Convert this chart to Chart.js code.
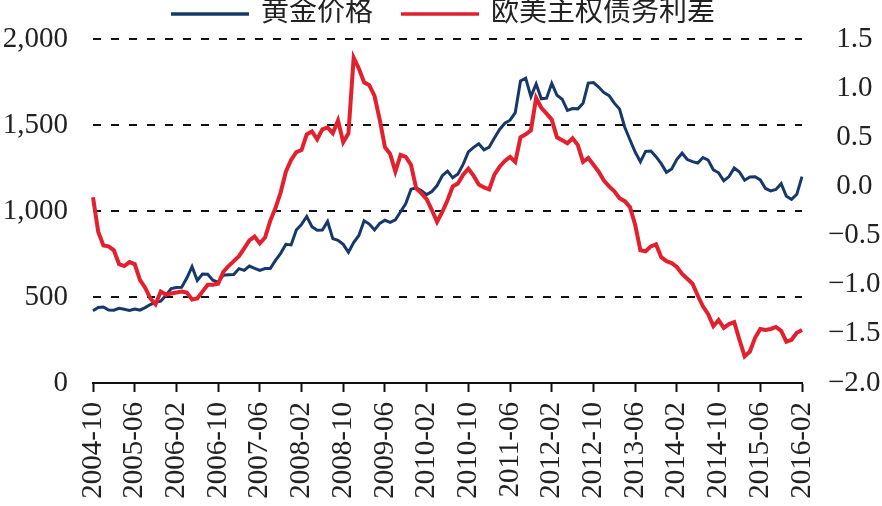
<!DOCTYPE html>
<html>
<head>
<meta charset="utf-8">
<script src="https://cdn.jsdelivr.net/npm/chart.js@4.4.1/dist/chart.umd.min.js"></script>
<style>
    body { margin: 0; background: #fff; }
    canvas { display: block; }
</style>
</head>
<body>
<canvas id="chart" width="882" height="506"></canvas>
<script>
// Month labels, 2004-10 .. 2016-02
const months = [];
for (let y = 2004, m = 10; y < 2016 || (y === 2016 && m <= 2); ) {
    months.push(y + '-' + (m < 10 ? '0' + m : m));
    m++;
    if (m > 12) { m = 1; y++; }
}

// Gold price (USD/oz, left axis)
const goldPrice = [
    420, 439, 442, 424, 423, 434, 429, 422, 430, 424,
    438, 456, 470, 476, 510, 549, 555, 557, 610, 676,
    596, 633, 632, 598, 585, 627, 629, 631, 665, 655,
    680, 667, 655, 665, 665, 713, 754, 806, 803, 889,
    922, 968, 909, 888, 889, 939, 839, 829, 806, 760,
    816, 858, 943, 924, 890, 928, 946, 934, 949, 996,
    1043, 1127, 1134, 1118, 1095, 1113, 1148, 1205, 1232, 1193,
    1215, 1271, 1343, 1370, 1391, 1356, 1372, 1424, 1474, 1510,
    1528, 1572, 1756, 1772, 1665, 1739, 1652, 1656, 1742, 1673,
    1650, 1585, 1596, 1594, 1626, 1744, 1747, 1721, 1688, 1671,
    1627, 1593, 1487, 1414, 1343, 1286, 1347, 1349, 1316, 1275,
    1225, 1244, 1300, 1336, 1299, 1287, 1279, 1311, 1296, 1239,
    1222, 1176, 1200, 1250, 1227, 1179, 1198, 1199, 1181, 1131,
    1117, 1125, 1159, 1086, 1068, 1097, 1200
];

// EU - US sovereign spread (right axis)
const bondSpread = [
    -0.11, -0.46, -0.60, -0.61, -0.65, -0.79, -0.81, -0.77, -0.79, -0.95,
    -1.03, -1.14, -1.20, -1.07, -1.10, -1.09, -1.08, -1.07, -1.08, -1.15,
    -1.14, -1.07, -1.00, -1.00, -0.99, -0.87, -0.81, -0.76, -0.71, -0.63,
    -0.55, -0.51, -0.58, -0.52, -0.35, -0.22, -0.06, 0.15, 0.27, 0.35,
    0.37, 0.53, 0.56, 0.48, 0.58, 0.60, 0.54, 0.67, 0.45, 0.54,
    1.31, 1.20, 1.06, 1.03, 0.92, 0.68, 0.40, 0.33, 0.15, 0.32,
    0.30, 0.22, -0.02, -0.07, -0.13, -0.24, -0.36, -0.26, -0.14, 0.00,
    0.03, 0.12, 0.18, 0.11, 0.02, -0.01, -0.03, 0.12, 0.20, 0.26,
    0.30, 0.25, 0.50, 0.53, 0.57, 0.90, 0.80, 0.74, 0.68, 0.50,
    0.47, 0.44, 0.49, 0.42, 0.25, 0.29, 0.22, 0.15, 0.06, 0.00,
    -0.05, -0.12, -0.15, -0.21, -0.39, -0.65, -0.66, -0.61, -0.59, -0.72,
    -0.76, -0.78, -0.82, -0.89, -0.94, -0.99, -1.11, -1.22, -1.30, -1.42,
    -1.36, -1.44, -1.40, -1.38, -1.56, -1.73, -1.68, -1.54, -1.45, -1.46,
    -1.45, -1.43, -1.47, -1.58, -1.56, -1.49, -1.46
];

const seriesNames = ['黄金价格', '欧美主权债务利差'];
const labelEvery = 8;

const fontFamily = '"Liberation Serif", "Noto Sans CJK SC", serif';
const textColor = '#222';

// Legend drawn by hand so the spacing matches the original
const topLegend = {
    id: 'topLegend',
    afterDraw(chart) {
        const ctx = chart.ctx;
        const lineLen = 78, gap = 12, itemGap = 28, y = 14;
        ctx.save();
        ctx.font = '28px ' + fontFamily;
        ctx.textBaseline = 'middle';
        const items = chart.data.datasets;
        let total = 0;
        items.forEach((ds, i) => {
            total += lineLen + gap + ctx.measureText(ds.label).width + (i ? itemGap : 0);
        });
        let x = (chart.width - total) / 2 + 2;
        items.forEach(ds => {
            ctx.strokeStyle = ds.borderColor;
            ctx.lineWidth = 3.5;
            ctx.beginPath();
            ctx.moveTo(x, y);
            ctx.lineTo(x + lineLen, y);
            ctx.stroke();
            x += lineLen + gap;
            ctx.fillStyle = textColor;
            ctx.fillText(ds.label, x, y);
            x += ctx.measureText(ds.label).width + itemGap;
        });
        ctx.restore();
    }
};

// keep the y axes from pushing the plot area down
function fixWidth(w) {
    return scale => {
        scale.width = w;
        scale.paddingTop = 0;
        scale.paddingBottom = 0;
    };
}

new Chart(document.getElementById('chart'), {
    type: 'line',
    data: {
        labels: months,
        datasets: [{
            label: seriesNames[0],
            data: goldPrice,
            yAxisID: 'y',
            borderColor: '#17386b',
            borderWidth: 3,
            pointRadius: 0,
            tension: 0,
            order: 2
        }, {
            label: seriesNames[1],
            data: bondSpread,
            yAxisID: 'y1',
            borderColor: '#e3202e',
            borderWidth: 4,
            pointRadius: 0,
            tension: 0,
            order: 1
        }]
    },
    options: {
        responsive: false,
        animation: false,
        devicePixelRatio: 1,
        layout: { padding: { top: 39, left: 0, right: 0, bottom: 0 } },
        plugins: {
            legend: { display: false },
            tooltip: { enabled: false }
        },
        scales: {
            x: {
                offset: false,
                grid: {
                    drawOnChartArea: false,
                    drawTicks: true,
                    tickLength: 9,
                    tickColor: '#111',
                    tickWidth: 2
                },
                border: { display: true, color: '#111', width: 2 },
                ticks: {
                    autoSkip: false,
                    minRotation: 90,
                    maxRotation: 90,
                    padding: 10,
                    color: textColor,
                    font: { family: fontFamily, size: 29 },
                    callback: function(value, index) {
                        return index % labelEvery === 0 ? this.getLabelForValue(value) : null;
                    }
                },
                afterFit: scale => { scale.height = 123; }
            },
            y: {
                position: 'left',
                min: 0,
                max: 2000,
                border: { display: false, dash: [8, 10] },
                grid: {
                    drawTicks: false,
                    lineWidth: 2,
                    color: ctx => ctx.tick && ctx.tick.value === 0 ? 'rgba(0,0,0,0)' : '#111'
                },
                ticks: {
                    stepSize: 500,
                    padding: 25,
                    color: textColor,
                    font: { family: fontFamily, size: 29 },
                    callback: v => v.toLocaleString('en-US')
                },
                afterFit: fixWidth(93)
            },
            y1: {
                position: 'right',
                min: -2,
                max: 1.5,
                border: { display: false },
                grid: { display: false, drawTicks: false },
                ticks: {
                    stepSize: 0.5,
                    padding: 26,
                    crossAlign: 'center',
                    color: textColor,
                    font: { family: fontFamily, size: 29 },
                    callback: v => (v < 0 ? '\u2212' : '') + Math.abs(v).toFixed(1)
                },
                afterFit: fixWidth(80)
            }
        }
    },
    plugins: [topLegend]
});
</script>
</body>
</html>
